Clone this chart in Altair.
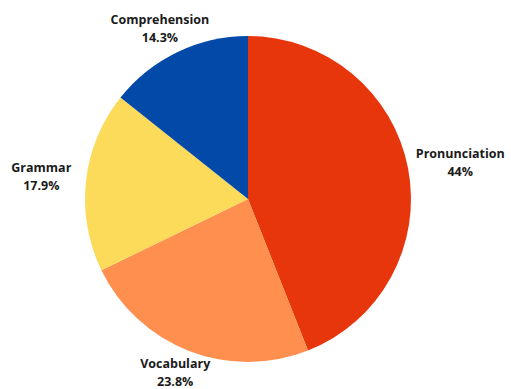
import altair as alt
import pandas as pd

categories = ["Pronunciation", "Vocabulary", "Grammar", "Comprehension"]
values = [44, 23.8, 17.9, 14.3]
colors = ["#E8360C", "#FF8F4E", "#FCDB5B", "#0249A8"]

df = pd.DataFrame({"cat": categories, "value": values, "order": list(range(len(categories)))})

CX, CY = 248, 199
LX, LY = 252, 198

base = alt.Chart(df)

pie = base.mark_arc(radius=163, x=CX, y=CY, stroke=None).encode(
    theta=alt.Theta("value:Q", stack=True),
    order=alt.Order("order:Q"),
    color=alt.Color("cat:N", scale=alt.Scale(domain=categories, range=colors), legend=None),
)

labels = base.transform_window(
    cum="sum(value)", sort=[alt.SortField("order")], frame=[None, 0]
).transform_joinaggregate(
    total="sum(value)"
).transform_calculate(
    mid="(datum.cum - datum.value / 2) / datum.total * 2 * PI",
    lx=f"{LX} + 212 * sin(datum.mid)",
    ly=f"{LY} - 188 * cos(datum.mid)",
    label="datum.cat + '\\n' + datum.value + '%'",
).mark_text(
    font="Open Sans", fontWeight="bold", fontSize=12.5, color="#1a1a1a",
    lineBreak="\n", lineHeight=18, align="center", baseline="middle", dy=-9,
).encode(
    x=alt.X("lx:Q", scale=None),
    y=alt.Y("ly:Q", scale=None),
    text="label:N",
)

chart = alt.layer(pie, labels).properties(
    width=511, height=389, autosize=alt.AutoSizeParams(type="none"), padding=0,
    background="white",
).configure_view(stroke=None)

chart.save("out.html", embed_options={"renderer": "svg", "actions": False})
